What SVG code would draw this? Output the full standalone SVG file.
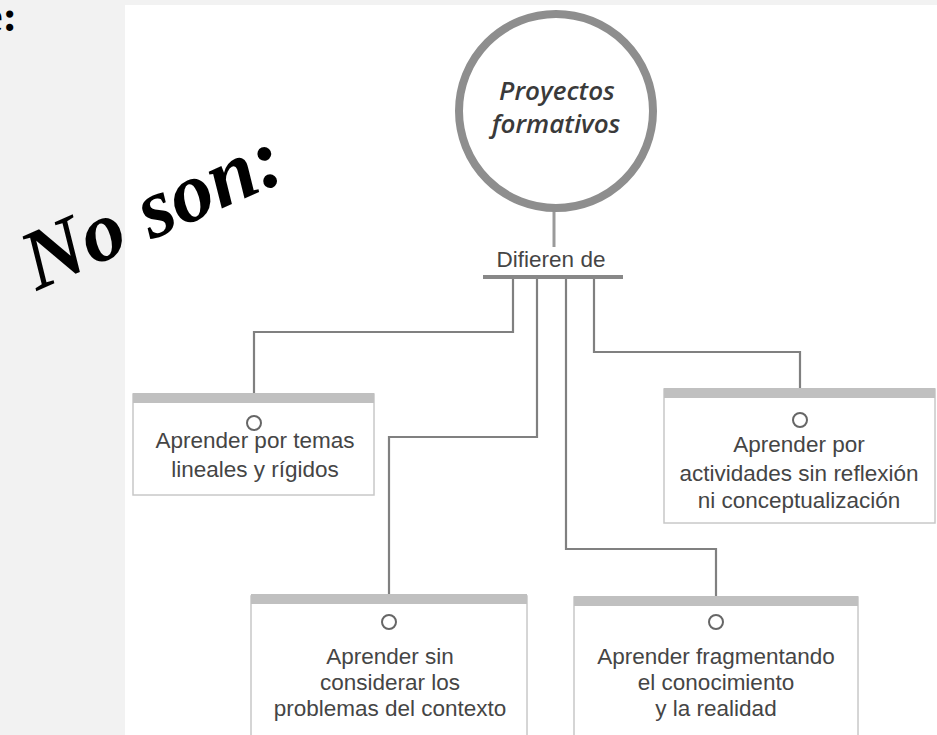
<svg xmlns="http://www.w3.org/2000/svg" width="937" height="735" viewBox="0 0 937 735">
<style>
.lbl{font-family:"Liberation Sans",Arial,sans-serif;font-size:22.5px;fill:#454545;text-anchor:middle}
.box{fill:#ffffff;stroke:#c8c8c8;stroke-width:1.5}
.bar{fill:#c0c0c0}
.dot{fill:#ffffff;stroke:#666666;stroke-width:2}
.con{fill:none;stroke:#808080;stroke-width:2.2}
</style>
<rect x="0" y="0" width="937" height="735" fill="#f2f2f2"/>
<rect x="125" y="5" width="812" height="730" fill="#ffffff"/>
<text x="-17" y="31" font-family="Liberation Serif,serif" font-weight="bold" font-size="44" fill="#000">e:</text>
<text transform="translate(37,291) rotate(-24)" font-family="Liberation Serif,serif" font-weight="bold" font-style="italic" font-size="85" fill="#000">No son:</text>

<g id="connectors">
<line x1="554" y1="210" x2="554" y2="247" stroke="#9a9a9a" stroke-width="3"/>
<rect x="483" y="275" width="140" height="4" fill="#888888"/>
<path class="con" d="M513 279 V332 H254 V416"/>
<path class="con" d="M537 279 V437 H389 V615"/>
<path class="con" d="M566 279 V549 H716 V615"/>
<path class="con" d="M594 279 V352 H800 V413"/>
</g>

<g id="root">
<circle cx="556" cy="111" r="97" fill="#ffffff" stroke="#8e8e8e" stroke-width="8"/>
<text font-family="Open Sans,sans-serif" font-style="italic" font-weight="600" font-size="26" fill="#3a3a3a" text-anchor="middle"><tspan x="557" y="100">Proyectos</tspan><tspan x="556" y="133">formativos</tspan></text>
</g>

<g id="difieren">
<text x="551" y="267" class="lbl">Difieren de</text>
</g>

<g id="n1">
<rect class="box" x="133" y="394" width="241" height="101"/>
<rect class="bar" x="133" y="393" width="241" height="10"/>
<circle class="dot" cx="254" cy="423" r="7"/>
<text class="lbl"><tspan x="255" y="448">Aprender por temas</tspan><tspan x="255" y="477">lineales y rígidos</tspan></text>
</g>

<g id="n2">
<rect class="box" x="664" y="389" width="271" height="134"/>
<rect class="bar" x="664" y="388" width="271" height="10"/>
<circle class="dot" cx="800" cy="420" r="7"/>
<text class="lbl"><tspan x="799" y="452">Aprender por</tspan><tspan x="799" y="481">actividades sin reflexión</tspan><tspan x="799" y="508">ni conceptualización</tspan></text>
</g>

<g id="n3">
<rect class="box" x="251" y="596" width="276" height="150"/>
<rect class="bar" x="251" y="594" width="276" height="10"/>
<circle class="dot" cx="389" cy="622" r="7"/>
<text class="lbl"><tspan x="390" y="664">Aprender sin</tspan><tspan x="390" y="690">considerar los</tspan><tspan x="390" y="716">problemas del contexto</tspan></text>
</g>

<g id="n4">
<rect class="box" x="574" y="597" width="284" height="150"/>
<rect class="bar" x="574" y="596" width="284" height="10"/>
<circle class="dot" cx="716" cy="622" r="7"/>
<text class="lbl"><tspan x="716" y="664">Aprender fragmentando</tspan><tspan x="716" y="690">el conocimiento</tspan><tspan x="716" y="716">y la realidad</tspan></text>
</g>
</svg>
